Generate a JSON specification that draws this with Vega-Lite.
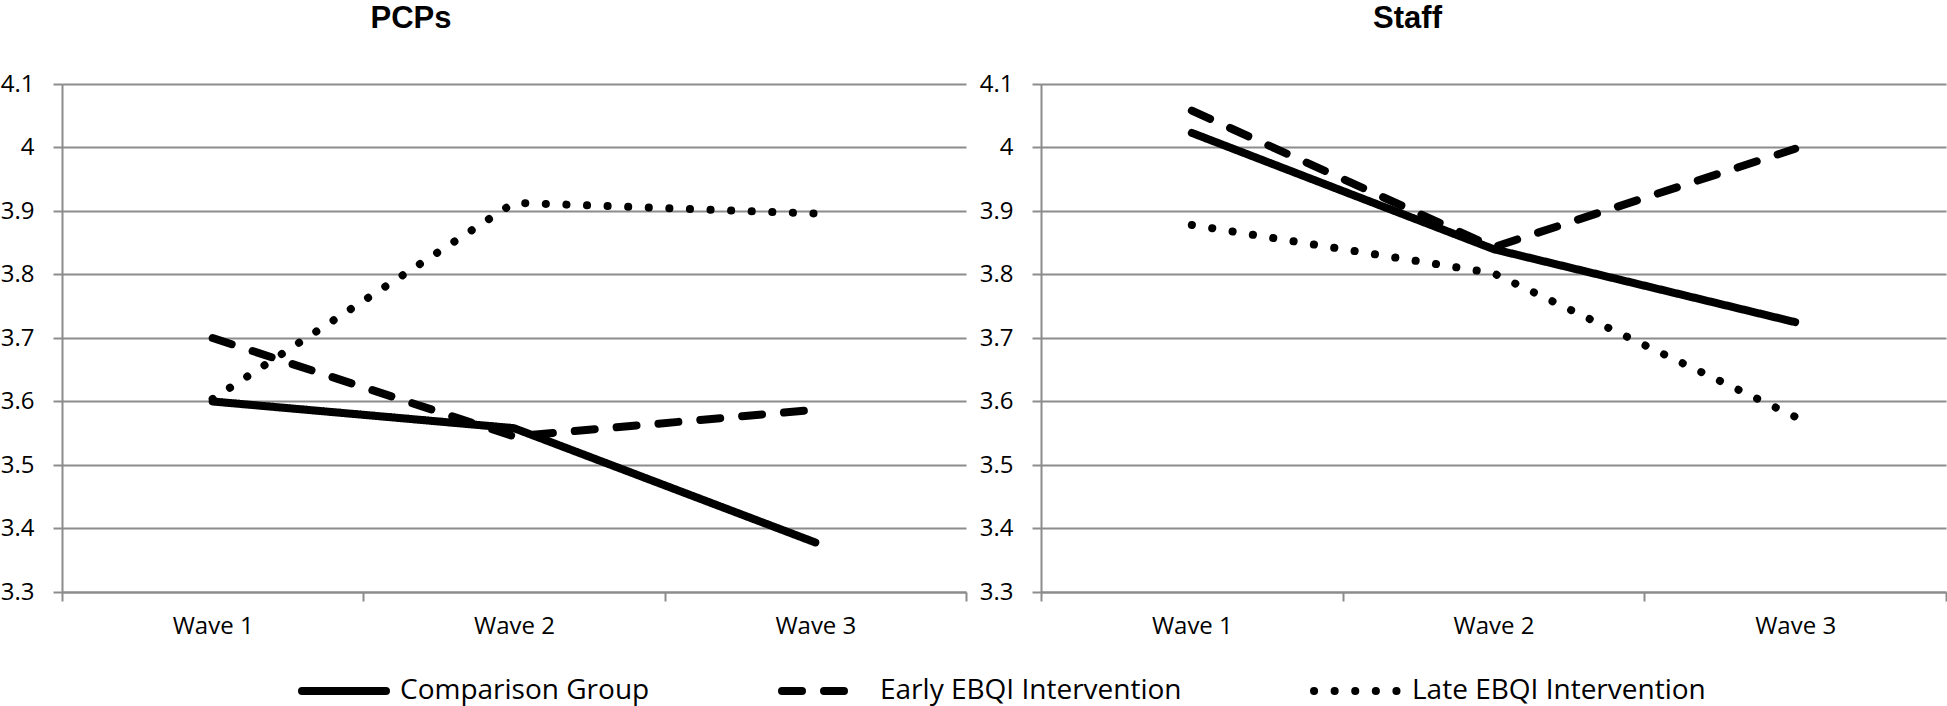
{
  "$schema": "https://vega.github.io/schema/vega-lite/v6.json",
  "background": "white",
  "padding": {"left": 0, "top": 3, "right": 0, "bottom": 0},
  "spacing": 75,
  "bounds": "flush",
  "data": {
    "values": [
      {"panel": "PCPs", "group": "Comparison Group", "wave": "Wave 1", "score": 3.60},
      {"panel": "PCPs", "group": "Comparison Group", "wave": "Wave 2", "score": 3.558},
      {"panel": "PCPs", "group": "Comparison Group", "wave": "Wave 3", "score": 3.378},
      {"panel": "PCPs", "group": "Early EBQI Intervention", "wave": "Wave 1", "score": 3.70},
      {"panel": "PCPs", "group": "Early EBQI Intervention", "wave": "Wave 2", "score": 3.545},
      {"panel": "PCPs", "group": "Early EBQI Intervention", "wave": "Wave 3", "score": 3.587},
      {"panel": "PCPs", "group": "Late EBQI Intervention", "wave": "Wave 1", "score": 3.604},
      {"panel": "PCPs", "group": "Late EBQI Intervention", "wave": "Wave 2", "score": 3.913},
      {"panel": "PCPs", "group": "Late EBQI Intervention", "wave": "Wave 3", "score": 3.896},
      {"panel": "Staff", "group": "Comparison Group", "wave": "Wave 1", "score": 4.023},
      {"panel": "Staff", "group": "Comparison Group", "wave": "Wave 2", "score": 3.840},
      {"panel": "Staff", "group": "Comparison Group", "wave": "Wave 3", "score": 3.725},
      {"panel": "Staff", "group": "Early EBQI Intervention", "wave": "Wave 1", "score": 4.058},
      {"panel": "Staff", "group": "Early EBQI Intervention", "wave": "Wave 2", "score": 3.843},
      {"panel": "Staff", "group": "Early EBQI Intervention", "wave": "Wave 3", "score": 3.998},
      {"panel": "Staff", "group": "Late EBQI Intervention", "wave": "Wave 1", "score": 3.878},
      {"panel": "Staff", "group": "Late EBQI Intervention", "wave": "Wave 2", "score": 3.802},
      {"panel": "Staff", "group": "Late EBQI Intervention", "wave": "Wave 3", "score": 3.576}
    ]
  },
  "config": {
    "view": {"stroke": null},
    "font": "Open Sans",
    "axis": {
      "labelFont": "Open Sans",
      "labelFontSize": 24,
      "labelColor": "black",
      "domainColor": "#8c8c8c",
      "domainWidth": 2,
      "tickColor": "#8c8c8c",
      "tickWidth": 2,
      "tickSize": 9,
      "gridColor": "#8c8c8c",
      "gridWidth": 2
    },
    "title": {
      "font": "Liberation Sans",
      "fontSize": 31,
      "fontWeight": "bold",
      "color": "black",
      "baseline": "alphabetic",
      "offset": 37
    }
  },
  "hconcat": [
    {
      "title": {"text": "PCPs", "dx": -103},
      "width": 904,
      "height": 508,
      "transform": [{"filter": "datum.panel === 'PCPs'"}],
      "mark": {"type": "line", "color": "black", "strokeCap": "round", "strokeJoin": "round"},
      "encoding": {
        "x": {
          "field": "wave", "type": "nominal",
          "scale": {"type": "band", "paddingInner": 0, "paddingOuter": 0},
          "axis": {"title": null, "labelAngle": 0, "tickBand": "extent", "grid": false, "labelPadding": 13}
        },
        "y": {
          "field": "score", "type": "quantitative",
          "scale": {"domain": [3.3, 4.1], "nice": false, "zero": false},
          "axis": {"title": null, "values": [3.3, 3.4, 3.5, 3.6, 3.7, 3.8, 3.9, 4.0, 4.1], "format": ".1~f", "grid": true, "labelPadding": 19}
        },
        "strokeDash": {
          "field": "group", "type": "nominal",
          "scale": {"domain": ["Comparison Group", "Early EBQI Intervention", "Late EBQI Intervention"], "range": [[1, 0], [20, 22], [0.1, 20.5]]},
          "legend": {
            "orient": "none", "legendX": 236, "legendY": 561, "direction": "horizontal", "title": null,
            "symbolType": "stroke", "symbolSize": 7056, "symbolStrokeColor": "black", "symbolStrokeWidth": 9, "symbolOpacity": 1,
            "labelFont": "Open Sans", "labelFontSize": 28, "labelColor": "black", "labelOffset": 10,
            "columnPadding": 116, "labelLimit": 0,
            "encode": {"symbols": {"update": {"strokeCap": {"value": "round"}}}}
          }
        },
        "strokeWidth": {
          "field": "group", "type": "nominal",
          "scale": {"domain": ["Comparison Group", "Early EBQI Intervention", "Late EBQI Intervention"], "range": [8, 8, 10]},
          "legend": null
        }
      }
    },
    {
      "title": {"text": "Staff", "dx": -86},
      "width": 905,
      "height": 508,
      "transform": [{"filter": "datum.panel === 'Staff'"}],
      "mark": {"type": "line", "color": "black", "strokeCap": "round", "strokeJoin": "round"},
      "encoding": {
        "x": {
          "field": "wave", "type": "nominal",
          "scale": {"type": "band", "paddingInner": 0, "paddingOuter": 0},
          "axis": {"title": null, "labelAngle": 0, "tickBand": "extent", "grid": false, "labelPadding": 13}
        },
        "y": {
          "field": "score", "type": "quantitative",
          "scale": {"domain": [3.3, 4.1], "nice": false, "zero": false},
          "axis": {"title": null, "values": [3.3, 3.4, 3.5, 3.6, 3.7, 3.8, 3.9, 4.0, 4.1], "format": ".1~f", "grid": true, "labelPadding": 19}
        },
        "strokeDash": {
          "field": "group", "type": "nominal",
          "scale": {"domain": ["Comparison Group", "Early EBQI Intervention", "Late EBQI Intervention"], "range": [[1, 0], [20, 22], [0.1, 20.5]]}
        },
        "strokeWidth": {
          "field": "group", "type": "nominal",
          "scale": {"domain": ["Comparison Group", "Early EBQI Intervention", "Late EBQI Intervention"], "range": [8, 8, 10]},
          "legend": null
        }
      }
    }
  ]
}
